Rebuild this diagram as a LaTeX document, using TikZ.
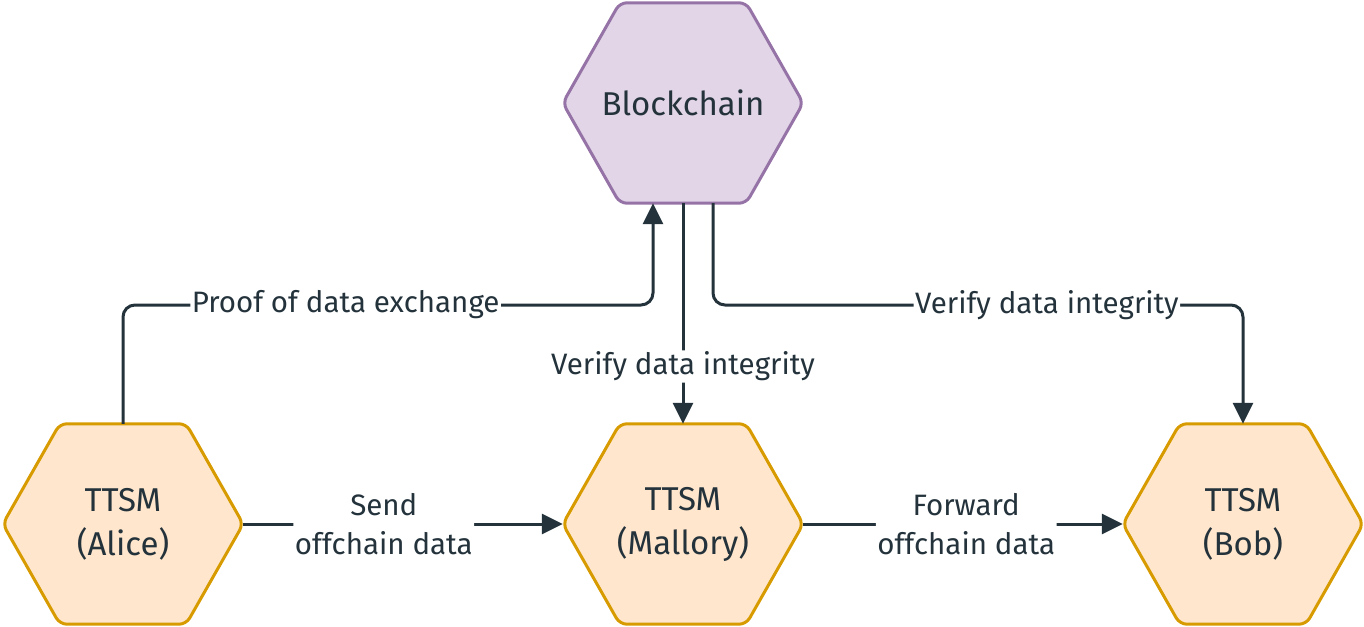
\documentclass[tikz,border=0pt]{standalone}
\usepackage{fontspec}
\setmainfont{Fira Sans}
\usetikzlibrary{arrows.meta,backgrounds}

\definecolor{ink}{HTML}{23323B}
\definecolor{chainfill}{HTML}{E1D5E7}
\definecolor{chainline}{HTML}{9673A6}
\definecolor{ttsmfill}{HTML}{FFE6CC}
\definecolor{ttsmline}{HTML}{D79B00}

\tikzset{
  hexnode/.style={minimum width=240pt, minimum height=200pt, inner sep=0pt,
    align=center, text=ink, font=\fontsize{33}{44}\selectfont},
  link/.style={draw=ink, line width=3pt, rounded corners=12pt,
    -{Triangle[length=21pt, width=20pt]}},
  lbl/.style={fill=white, inner sep=1.5pt, align=center, text=ink,
    font=\fontsize{29.5}{39}\selectfont},
}

% hexagon outline behind a node
\newcommand{\hexshape}[2]{%
  \draw[#2, line width=3pt, rounded corners=7pt] (#1.north)
    -- ([xshift=-57pt]#1.north east) -- (#1.east)
    -- ([xshift=-57pt]#1.south east) -- ([xshift=57pt]#1.south west)
    -- (#1.west) -- ([xshift=57pt]#1.north west) -- cycle;}

\begin{document}
\begin{tikzpicture}[x=1pt, y=-1pt]
    \useasboundingbox (0,0) rectangle (1364,626);
    \node[hexnode] (chain) at (683,103) {Blockchain};
    \node[hexnode] (alice) at (123,524) {TTSM\\(Alice)};
    \node[hexnode] (mallory) at (683,524) {TTSM\\(Mallory)};
    \node[hexnode] (bob) at (1243,524) {TTSM\\(Bob)};
    \begin{scope}[on background layer]
        \hexshape{chain}{draw=chainline, fill=chainfill}
        \foreach \n in {alice,mallory,bob} {\hexshape{\n}{draw=ttsmline, fill=ttsmfill}}
    \end{scope}
    \coordinate (midrow) at (0,305);
    \coordinate (proofin) at ([xshift=-30pt]chain.south);
    \coordinate (verifyout) at ([xshift=30pt]chain.south);
    \draw[link] (alice.north) -- (alice.north |- midrow)
        -- node[lbl, pos=0.42] {Proof of data exchange} (proofin |- midrow) -- (proofin);
    \draw[link] (chain.south) -- node[lbl, pos=0.74] {Verify data integrity} (mallory.north);
    \draw[link] (verifyout) -- (verifyout |- midrow)
        -- node[lbl, pos=0.63] {Verify data integrity} (bob.north |- midrow) -- (bob.north);
    \draw[link] (alice.east) -- node[lbl, pos=0.44] {Send\\offchain data} (mallory.west);
    \draw[link] (mallory.east) -- node[lbl, pos=0.51] {Forward\\offchain data} (bob.west);
\end{tikzpicture}
\end{document}
